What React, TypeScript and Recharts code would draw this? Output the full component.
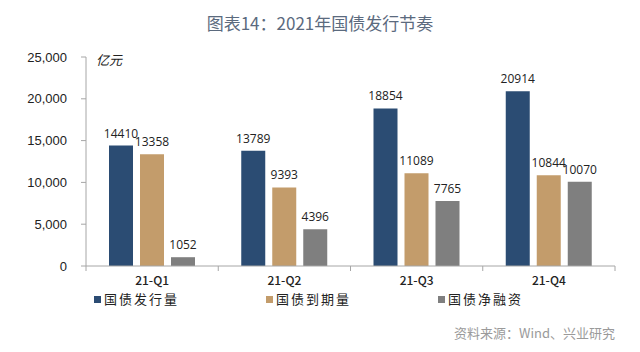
import { BarChart, Bar, XAxis, YAxis, LabelList } from 'recharts';

const quarters = ['21-Q1', '21-Q2', '21-Q3', '21-Q4'];
const issuance = [14410, 13789, 18854, 20914];
const maturity = [13358, 9393, 11089, 10844];
const netFinancing = [1052, 4396, 7765, 10070];
const yTicks = [0, 5000, 10000, 15000, 20000, 25000];

const seriesInfo = [
  { key: 'issuance', name: '国债发行量', color: '#2B4C73' },
  { key: 'maturity', name: '国债到期量', color: '#C39C6B' },
  { key: 'net', name: '国债净融资', color: '#7F7F7F' },
];

const data = quarters.map((q, i) => ({
  quarter: q,
  issuance: issuance[i],
  maturity: maturity[i],
  net: netFinancing[i],
}));

const CHART_W = 640;
const CHART_H = 352;
const MARGIN = { top: 57, right: 25, left: 0, bottom: 56 };
const Y_W = 86;
const HALF_BAND = (CHART_W - MARGIN.right - Y_W) / quarters.length / 2;
const CJK = "'Noto Sans CJK SC', sans-serif";

const fmt = (v: number) => v.toLocaleString('en-US');

// category label plus boundary tick marks on the x axis
const QuarterTick = (props: any) => {
  const { x, y, payload, index } = props;
  return (
    <g>
      <line x1={x - HALF_BAND} y1={y - 8} x2={x - HALF_BAND} y2={y - 3} stroke="#A6A6A6" />
      {index === quarters.length - 1 && (
        <line x1={x + HALF_BAND} y1={y - 8} x2={x + HALF_BAND} y2={y - 3} stroke="#A6A6A6" />
      )}
      <text x={x} y={y + 11} textAnchor="middle" fontSize={12} fontWeight={500} fill="#222" fontFamily={CJK}>
        {payload.value}
      </text>
    </g>
  );
};

export default function App() {
  return (
    <div style={{ position: 'fixed', left: 0, top: 0, width: CHART_W, height: CHART_H, background: '#fff' }}>
      <div style={{ position: 'absolute', top: 10, width: CHART_W, textAlign: 'center', fontFamily: CJK, fontSize: 17, color: '#5B6A7E' }}>
        图表14：2021年国债发行节奏
      </div>
      <div style={{ position: 'absolute', left: 96, top: 50, fontFamily: CJK, fontSize: 13, fontStyle: 'italic', color: '#222' }}>
        亿元
      </div>
      <div style={{ position: 'absolute', left: 94, top: 291, display: 'flex', fontFamily: CJK, fontSize: 13, lineHeight: '16px', color: '#222' }}>
        {seriesInfo.map((s) => (
          <div key={s.key} style={{ width: 172, display: 'flex', alignItems: 'center', gap: 3 }}>
            <span style={{ width: 7, height: 7, background: s.color, display: 'inline-block' }} />
            <span style={{ letterSpacing: 2 }}>{s.name}</span>
          </div>
        ))}
      </div>
      <div style={{ position: 'absolute', right: 25, top: 323, fontFamily: CJK, fontSize: 13, color: '#9A9A9A' }}>
        资料来源：Wind、兴业研究
      </div>
      <BarChart width={CHART_W} height={CHART_H} data={data} margin={MARGIN} barSize={24} barGap={7}>
        <XAxis dataKey="quarter" axisLine={{ stroke: '#A6A6A6' }} tickLine={false} tick={<QuarterTick />} height={30} interval={0} />
        <YAxis domain={[0, 25000]} ticks={yTicks} width={Y_W} tickFormatter={fmt}
          axisLine={{ stroke: '#A6A6A6' }} tickLine={{ stroke: '#A6A6A6' }} tickSize={5} tickMargin={14}
          tick={{ fontSize: 13, fill: '#222', fontFamily: "'Liberation Sans', Arial, sans-serif" }} />
        {seriesInfo.map((s) => (
          <Bar key={s.key} dataKey={s.key} name={s.name} fill={s.color} isAnimationActive={false}>
            <LabelList dataKey={s.key} position="top" offset={8} fontSize={12} fill="#222"
              fontFamily="'Open Sans', sans-serif" />
          </Bar>
        ))}
      </BarChart>
    </div>
  );
}
